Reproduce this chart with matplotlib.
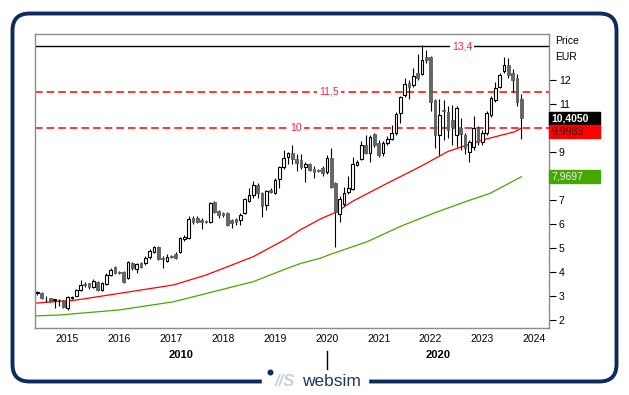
import matplotlib
matplotlib.use('Agg')
import matplotlib.pyplot as plt
import numpy as np
from matplotlib.patches import Rectangle, FancyBboxPatch

plt.rcParams['font.family'] = ['Liberation Sans', 'DejaVu Sans']

# monthly candles, first one = June 2014, last one = Oct 2023
opens = [3.12, 3.13, 2.84, 2.90, 2.83, 2.82, 2.80, 2.49, 2.91, 3.00,
         3.25, 3.47, 3.53, 3.39, 3.60, 3.25, 3.49, 3.87, 4.20, 3.98,
         4.01, 3.75, 4.36, 4.14, 4.37, 4.39, 4.61, 4.85, 5.04, 4.60,
         4.47, 4.65, 4.75, 4.82, 5.37, 5.40, 6.27, 6.27, 6.17, 6.11,
         6.10, 6.90, 6.55, 6.44, 6.44, 6.17, 6.20, 6.17, 6.44, 6.97,
         7.20, 7.62, 7.30, 6.79, 7.42, 7.30, 7.86, 8.36, 8.78, 8.97,
         8.71, 8.67, 8.36, 8.50, 8.29, 8.23, 8.32, 8.18, 8.74, 7.72,
         6.42, 6.83, 7.32, 7.46, 8.46, 8.71, 9.29, 8.94, 9.75, 9.36,
         8.94, 9.39, 9.54, 9.78, 10.61, 11.38, 11.89, 11.79, 12.28, 12.25,
         12.97, 12.97, 11.17, 9.71, 10.72, 10.68, 10.33, 9.71, 10.00, 9.71,
         9.01, 9.22, 9.99, 9.43, 9.78, 10.54, 11.17, 11.72, 12.39, 12.63,
         12.28, 12.10, 11.20]
closes = [3.14, 2.90, 2.82, 2.79, 2.84, 2.83, 2.55, 2.97, 2.93, 3.25,
          3.46, 3.45, 3.39, 3.64, 3.25, 3.53, 3.87, 4.10, 3.96, 3.97,
          3.60, 4.42, 4.17, 4.33, 4.22, 4.60, 4.89, 5.04, 4.53, 4.53,
          4.64, 4.63, 4.60, 5.40, 5.47, 6.20, 6.10, 6.10, 6.07, 6.10,
          6.86, 6.51, 6.37, 6.37, 5.96, 6.03, 6.10, 6.37, 7.04, 7.20,
          7.62, 7.28, 6.75, 7.37, 7.35, 7.83, 8.36, 8.74, 8.94, 8.70,
          8.53, 8.39, 8.50, 8.25, 8.18, 8.21, 8.11, 8.74, 7.56, 6.51,
          7.03, 7.28, 7.51, 8.50, 8.57, 9.29, 8.94, 9.64, 9.29, 8.87,
          9.36, 9.54, 9.78, 10.58, 11.28, 11.83, 11.72, 12.17, 12.07, 12.83,
          12.83, 11.10, 9.71, 10.54, 10.70, 9.92, 10.06, 10.82, 9.75, 9.15,
          9.43, 9.99, 9.43, 9.78, 10.61, 11.24, 11.65, 12.21, 12.63, 12.21,
          12.00, 11.10, 10.405]
highs = [3.20, 3.15, 2.99, 2.92, 2.87, 2.87, 2.83, 3.00, 3.00, 3.28,
         3.67, 3.60, 3.56, 3.70, 3.64, 3.58, 3.96, 4.15, 4.24, 4.05,
         4.05, 4.45, 4.42, 4.38, 4.42, 4.65, 4.95, 5.10, 5.08, 4.65,
         4.75, 4.70, 4.85, 5.45, 5.55, 6.33, 6.35, 6.33, 6.23, 6.15,
         6.90, 6.95, 6.60, 6.50, 6.50, 6.20, 6.25, 6.45, 7.10, 7.50,
         7.80, 7.70, 7.35, 7.42, 7.50, 7.90, 8.40, 9.08, 9.00, 9.29,
         8.90, 8.90, 8.60, 8.55, 8.40, 8.30, 8.40, 8.87, 9.15, 7.75,
         7.15, 7.55, 8.00, 8.80, 8.65, 9.45, 9.70, 9.72, 9.80, 9.50,
         9.45, 9.65, 10.12, 10.65, 11.35, 12.10, 12.00, 12.50, 13.10, 13.46,
         13.25, 13.00, 11.20, 11.20, 11.17, 10.90, 10.96, 10.90, 10.40, 9.80,
         9.50, 10.50, 10.10, 9.90, 10.70, 11.35, 11.90, 12.30, 12.97, 12.90,
         12.45, 12.24, 11.40]
lows = [3.05, 2.88, 2.76, 2.75, 2.50, 2.60, 2.50, 2.42, 2.87, 2.98,
        3.20, 3.36, 3.30, 3.35, 3.20, 3.20, 3.45, 3.82, 3.90, 3.90,
        3.55, 3.70, 4.10, 3.95, 4.15, 4.30, 4.55, 4.80, 4.50, 4.17,
        4.40, 4.58, 4.55, 4.78, 5.30, 5.38, 6.00, 6.05, 5.78, 6.05,
        6.05, 6.45, 6.25, 6.30, 5.90, 5.85, 5.95, 5.95, 6.40, 6.90,
        7.10, 7.10, 6.29, 6.60, 7.30, 7.25, 7.50, 8.30, 8.50, 8.50,
        8.20, 8.30, 7.76, 8.20, 7.90, 8.15, 8.00, 8.10, 7.50, 5.05,
        6.10, 6.75, 7.25, 7.40, 8.40, 8.65, 8.90, 8.60, 9.20, 8.80,
        8.85, 9.30, 9.50, 9.70, 10.20, 11.30, 11.20, 11.70, 12.00, 12.20,
        12.70, 10.70, 9.15, 8.87, 9.50, 9.60, 9.29, 9.20, 9.10, 8.90,
        8.60, 9.10, 9.30, 9.30, 9.70, 10.45, 11.10, 11.65, 12.30, 12.10,
        11.50, 10.90, 9.53]

# moving averages (candle index, value)
ma_red_idx = [-0.5, 9, 19, 31.5, 39, 50, 57.8, 60.8, 65.4, 69.3, 73, 81, 88.6, 95, 103, 110.6, 112]
ma_red_val = [2.70, 2.83, 3.11, 3.46, 3.87, 4.64, 5.40, 5.75, 6.20, 6.51, 6.95, 7.70, 8.39, 9.02, 9.50, 9.85, 9.9983]
ma_green_idx = [-0.5, 5.3, 19, 31.5, 42.3, 50, 57.8, 61, 65.4, 68.5, 76.3, 83.9, 91.7, 99.4, 104.8, 112]
ma_green_val = [2.17, 2.21, 2.42, 2.76, 3.25, 3.60, 4.15, 4.36, 4.57, 4.78, 5.26, 5.89, 6.45, 6.95, 7.28, 7.9697]

years = [2015, 2016, 2017, 2018, 2019, 2020, 2021, 2022, 2023, 2024]
year_idx = [7 + 12 * k for k in range(len(years))]   # January of each year
price_ticks = list(range(2, 13))
hidden_ticks = [8, 10]   # covered by the value boxes
levels = [13.4, 11.5, 10]
level_labels = ['13,4', '11,5', '10']
last_price = 10.405
last_price_txt = '10,4050'
red_txt = '9,9983'
green_txt = '7,9697'

NAVY = '#0d2b5c'
LEVEL_RED = '#ff2040'

fig = plt.figure(figsize=(6.29, 3.95), dpi=100)

# decoration layer in pixel coordinates
deco = fig.add_axes([0, 0, 1, 1], zorder=0)
deco.set_xlim(0, 629)
deco.set_ylim(395, 0)
deco.axis('off')
deco.add_patch(FancyBboxPatch((12.5, 13.5), 604, 368, boxstyle='round,pad=0,rounding_size=17',
                              fill=False, ec=NAVY, lw=2.8))
deco.add_patch(Rectangle((262, 372), 106, 16, color='white', zorder=3))
deco.plot([270], [372], 'o', ms=3.3, color=NAVY, zorder=4)
deco.text(285, 381, '//S', style='italic', fontweight='bold', color='#c6d1de',
          fontsize=12, ha='center', va='center', zorder=4)
deco.text(331, 381, 'websim', ha='center', va='center', fontsize=12.5, color='#1b3766', zorder=4)
deco.text(555, 41, 'Price', ha='left', va='center', fontsize=7.5)
deco.text(555, 57, 'EUR', ha='left', va='center', fontsize=7.5)

# main chart
ax = fig.add_axes([35 / 629, (395 - 328.3) / 395, 514 / 629, 294 / 395], zorder=2)
ax.set_xlim(-0.53, 118.4)
ax.set_ylim(1.654, 13.904)
for s in ax.spines.values():
    s.set_color('#8a8a99')
    s.set_linewidth(1)

idx = np.arange(len(opens))
o = np.array(opens)
c = np.array(closes)
up = c >= o

ax.vlines(idx, lows, highs, color='black', lw=0.8, zorder=3)
bottoms = np.minimum(o, c)
heights = np.maximum(np.abs(c - o), 0.03)
ax.bar(idx[up], heights[up], bottom=bottoms[up], width=0.62, color='white',
       edgecolor='black', linewidth=0.8, zorder=4)
ax.bar(idx[~up], heights[~up], bottom=bottoms[~up], width=0.62, color='#666666',
       edgecolor='#5a5a5a', linewidth=0.6, zorder=4)

ax.plot(ma_red_idx, ma_red_val, color='#ff0000', lw=0.9, zorder=2)
ax.plot(ma_green_idx, ma_green_val, color='#44aa00', lw=0.9, zorder=2)

ax.axhline(levels[0], color='black', lw=1, zorder=1)
ax.axhline(levels[1], color='#ff0000', lw=1.1, ls=(0, (5, 2.6)), zorder=1)
ax.axhline(levels[2], color='#ff0000', lw=1.1, ls=(0, (5, 2.6)), zorder=1)
for xf, lv, lab in zip([0.831, 0.572, 0.508], levels, level_labels):
    ax.text(xf, lv, lab, transform=ax.get_yaxis_transform(), ha='center', va='center',
            color=LEVEL_RED, fontsize=7.5, zorder=2,
            bbox=dict(facecolor='white', edgecolor='none', pad=1.5))

# axes ticks
ax.yaxis.tick_right()
ax.set_yticks(price_ticks)
ax.set_yticklabels(['' if v in hidden_ticks else str(v) for v in price_ticks])
ax.tick_params(axis='y', direction='out', length=5, width=0.8, pad=2, labelsize=7.5)
ax.set_xticks(year_idx)
ax.set_xticklabels([str(y) for y in years])
ax.tick_params(axis='x', length=0, pad=4, labelsize=7.5)

# decade labels under the axis
xt = ax.get_xaxis_transform()
jan2020 = year_idx[years.index(2020)]
ax.text((ax.get_xlim()[0] + jan2020) / 2, -0.092, '2010', transform=xt, ha='center', va='center',
        fontweight='bold', fontsize=8)
ax.text((ax.get_xlim()[1] + jan2020) / 2, -0.092, '2020', transform=xt, ha='center', va='center',
        fontweight='bold', fontsize=8)
ax.plot([jan2020, jan2020], [-0.078, -0.139], transform=xt, color='black', lw=1, clip_on=False)

# value boxes on the right
yt = ax.get_yaxis_transform()
bw = 51 / 514
bh = 13 / 24
blk_bot = last_price - bh / 2
ax.add_patch(Rectangle((1.0, blk_bot), bw, bh, transform=yt, color='black', clip_on=False, zorder=5))
ax.text(1.004, last_price, last_price_txt, transform=yt, ha='left', va='center', color='white',
        fontweight='bold', fontsize=7.5, zorder=6)
ax.add_patch(Rectangle((1.0, blk_bot - bh), bw, bh, transform=yt, color='#ff0000', clip_on=False, zorder=5))
ax.text(1.004, blk_bot - bh / 2, red_txt, transform=yt, ha='left', va='center', color='#3a0000',
        fontsize=7.5, zorder=6)
g = ma_green_val[-1]
ax.add_patch(Rectangle((1.0, g - bh / 2), bw, bh, transform=yt, color='#44a800', clip_on=False, zorder=5))
ax.text(1.004, g, green_txt, transform=yt, ha='left', va='center', color='#f0f0f0',
        fontsize=7.5, zorder=6)

fig.savefig('out.png', dpi=100)
